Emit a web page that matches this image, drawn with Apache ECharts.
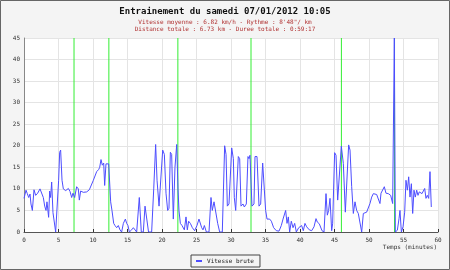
<!DOCTYPE html>
<html><head><meta charset="utf-8">
<script src="https://cdn.jsdelivr.net/npm/echarts@6/dist/echarts.min.js"></script>
<style>html,body{margin:0;padding:0;background:#f4f4f4}#c{width:450px;height:270px}</style>
</head><body><div id="c"></div>
<script>
// Data
var times = [0.00,0.29,0.48,0.68,0.87,1.01,1.21,1.45,1.69,1.98,2.32,2.56,2.80,3.00,3.19,3.33,3.57,3.72,3.86,4.01,4.20,4.40,4.59,4.83,5.02,5.17,5.31,5.51,5.70,6.04,6.43,6.67,6.91,7.10,7.34,7.63,7.87,8.02,8.21,8.60,9.08,9.47,9.71,10.05,10.24,10.53,10.82,10.97,11.16,11.35,11.55,11.69,11.88,12.27,12.56,12.75,13.00,13.19,13.43,13.67,13.91,14.15,14.40,14.69,14.88,15.07,15.27,15.60,15.85,16.33,16.71,17.00,17.29,17.54,17.78,18.05,18.50,18.80,19.08,19.28,19.57,19.81,20.10,20.34,20.58,20.82,21.01,21.21,21.40,21.64,21.88,22.13,22.32,22.46,22.66,22.90,23.09,23.24,23.48,23.67,23.86,24.11,24.40,24.73,25.07,25.36,25.51,25.75,25.94,26.14,26.43,26.81,27.10,27.29,27.54,27.78,28.07,28.36,28.74,29.08,29.28,29.47,29.71,30.10,30.34,30.48,30.68,30.87,31.06,31.26,31.45,31.74,31.93,32.22,32.46,32.61,32.75,33.04,33.33,33.48,33.77,34.06,34.30,34.59,34.83,35.02,35.22,35.60,35.85,36.18,36.57,36.96,37.29,37.54,37.92,38.12,38.31,38.50,38.74,38.99,39.23,39.47,39.81,40.00,40.24,40.48,40.72,40.97,41.35,41.69,42.03,42.32,42.51,42.80,43.00,43.19,43.48,43.77,43.96,44.15,44.35,44.59,44.73,45.02,45.22,45.46,45.70,45.99,46.28,46.57,46.76,47.05,47.25,47.49,47.73,47.97,48.21,48.45,48.70,48.94,49.18,49.42,49.66,49.90,50.14,50.39,50.63,50.87,51.11,51.35,51.59,51.74,51.98,52.22,52.46,52.80,53.14,53.43,53.67,53.82,54.11,54.35,54.49,54.69,54.93,55.17,55.36,55.56,55.75,55.94,56.14,56.33,56.52,56.71,56.91,57.10,57.29,57.49,57.68,57.87,58.07,58.26,58.45,58.65,58.84,59.03];
var speeds = [7.8,9.7,8.9,8.0,8.8,6.5,5.0,9.8,8.5,9.0,10.0,10.2,8.0,6.0,5.0,7.0,3.4,9.5,8.0,11.6,4.5,4.2,0,0,12,18.5,19.0,12,10.0,9.6,10.1,9.4,8.0,9.0,8.0,10.5,10.0,7.4,9.5,9.2,9.3,9.8,10.0,12.0,12.4,14.0,14.5,15.0,16.8,15.5,16.0,10.8,15.8,15.8,7.0,5.0,2.0,1.5,1.0,1.5,0.5,0,2.0,3.0,2.0,1.5,0,0.5,1.0,0,8.0,0,0,6.0,6.4,0,0,10,20.3,12,6.0,6.2,19.0,18.0,9,5.0,5.5,18.5,18.0,3.0,15,20.3,10,5.0,2.0,1.5,1.8,0.5,3.5,0.5,2.5,2.0,1.0,0.3,1.5,3.0,2.8,1.0,0.5,1.5,0,0,8.0,5.0,7.0,6.8,2.0,0,0,20.0,18.0,6.0,6.5,19.5,17.0,8.0,5.0,5.2,17.5,17.0,6.0,6.5,5.8,6.5,17.5,17.0,17.8,6.0,6.5,17.5,17.5,6.0,6.5,16.0,16.3,5.0,3.0,3.0,2.5,1.0,0.3,0.2,1.5,3.0,5.0,2.0,3.5,0,2.5,1.0,2.0,0,1.0,1.2,1.5,0.3,2.0,1.2,0.5,0.3,1.2,3.1,2.3,1.9,1.7,0.3,0,8.9,3.9,5.0,7.8,0.3,1.9,18.4,17.8,7.4,7.0,19.9,15.9,4.6,5.0,20.2,19.0,10.5,4.3,7.0,5.0,4.3,4.6,0,4.3,3.9,4.6,5.0,6.6,8.1,8.9,9.0,8.7,8.9,6.6,9.0,9.3,10.5,9.0,8.9,8.5,6.6,45,0,0.4,3.1,5.0,0,1.2,4.6,12.0,9.7,12.8,8.1,11.2,4.3,9.7,8.1,9.7,8.5,9.3,9.7,8.9,9.3,10.1,7.8,8.5,7.8,14.0,5.8];
var lapMarks = [7.25,12.3,22.3,32.9,46.0,53.7];
var titleText = 'Entrainement du samedi 07/01/2012 10:05';
var subLine1 = 'Vitesse moyenne : 6.82 km/h - Rythme : 8\'48"/ km';
var subLine2 = 'Distance totale : 6.73 km - Duree totale : 0:59:17';
var seriesName = 'Vitesse brute';
var yName = 'Vitesse (km/h)';
var xName = 'Temps (minutes)';

var pts = times.map(function(t,i){return [t, speeds[i]];});
var lapPts = [];
lapMarks.forEach(function(t){ lapPts.push([t,0]); lapPts.push([t,45]); lapPts.push([t,'-']); });
var mono = 'DejaVu Sans Mono';
var chart = echarts.init(document.getElementById('c'), null, {renderer:'canvas'});
chart.setOption({
  animation:false,
  backgroundColor:'#f4f4f4',
  title:[
    {text:titleText,left:'center',top:2,textStyle:{fontFamily:mono,fontSize:9,fontWeight:'bold',color:'#111'}},
    {text:subLine1+'\n'+subLine2,left:'center',top:14,textStyle:{fontFamily:mono,fontSize:6,fontWeight:'normal',color:'#b03030',lineHeight:7}}
  ],
  grid:{left:24,right:12,top:38,bottom:38,show:true,backgroundColor:'#ffffff',borderWidth:0,outerBoundsMode:'none',containLabel:false},
  xAxis:{type:'value',min:0,max:60,interval:5,
    axisLine:{lineStyle:{color:'#555',width:1}},
    axisTick:{inside:true,length:3,lineStyle:{color:'#333'}},
    axisLabel:{fontFamily:mono,fontSize:6,color:'#333',margin:5},
    splitLine:{show:true,lineStyle:{color:'#e4e4e4',width:1}}},
  yAxis:{type:'value',min:0,max:45,interval:5,
    name:yName,nameLocation:'middle',nameGap:18,nameRotate:90,
    nameTextStyle:{fontFamily:mono,fontSize:6,color:'#333'},
    axisLine:{show:true,lineStyle:{color:'#888',width:1}},
    axisTick:{show:false},
    axisLabel:{fontFamily:mono,fontSize:6,color:'#333',margin:4},
    splitLine:{show:true,lineStyle:{color:'#e4e4e4',width:1}}},
  legend:{bottom:3,left:'center',data:[{name:seriesName,icon:'rect'}],
    itemWidth:6,itemHeight:2,itemGap:4,
    borderColor:'#444',borderWidth:1,backgroundColor:'#f4f4f4',padding:[3,6,3,5],
    textStyle:{fontFamily:mono,fontSize:6,color:'#222'}},
  graphic:[
    {type:'text',right:13,top:244,style:{text:xName,font:'6px "DejaVu Sans Mono"',fill:'#333'}},
    {type:'rect',shape:{x:0.5,y:0.5,width:449,height:269},style:{fill:'none',stroke:'#666',lineWidth:1},z:100}
  ],
  series:[
    {name:'laps',type:'line',data:lapPts,showSymbol:false,symbol:'none',connectNulls:false,
      lineStyle:{color:'#33ee33',width:1},itemStyle:{color:'#33ee33'},silent:true,z:1},
    {name:seriesName,type:'line',data:pts,showSymbol:false,symbol:'none',
      lineStyle:{color:'#4d4dff',width:1},itemStyle:{color:'#4d4dff'},
      clip:true,z:2}
  ]
});
</script></body></html>
